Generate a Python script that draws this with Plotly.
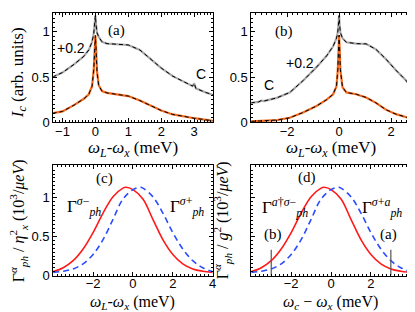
import plotly.graph_objects as go

# ---------------- data ----------------
# Panel (a): I_c vs omega_L - omega_x (meV)
a_x = [-1.3, -1.0, -0.65, -0.35, -0.2, -0.1, -0.05, -0.02, 0.0, 0.02, 0.05, 0.1, 0.2, 0.35, 0.65, 1.0,
       1.35, 1.65, 2.0, 2.35, 2.7, 2.95, 3.0, 3.05, 3.35, 3.6]
a_low = [0.10, 0.12, 0.19, 0.26, 0.31, 0.40, 0.58, 0.82, 0.96, 0.82, 0.56, 0.41, 0.345, 0.325, 0.31, 0.29,
         0.24, 0.19, 0.13, 0.087, 0.06, 0.045, 0.045, 0.043, 0.025, 0.015]
a_up = [0.50, 0.55, 0.64, 0.73, 0.80, 0.89, 0.98, 1.09, 1.18, 1.08, 0.99, 0.945, 0.89, 0.87, 0.863, 0.855,
        0.80, 0.71, 0.60, 0.51, 0.45, 0.40, 0.43, 0.375, 0.33, 0.30]

# Panel (b)
b_x = [-3.4, -3.1, -3.0, -2.9, -2.4, -1.9, -1.37, -0.87, -0.48, -0.23, -0.1, -0.05, -0.02, 0.0, 0.02, 0.05,
       0.13, 0.28, 0.66, 1.04, 1.42, 1.8, 2.19, 2.57, 2.82]
b_low = [0.01, 0.015, 0.016, 0.018, 0.025, 0.05, 0.11, 0.18, 0.25, 0.31, 0.40, 0.58, 0.82, 0.965, 0.82, 0.58,
         0.39, 0.33, 0.31, 0.275, 0.215, 0.14, 0.09, 0.054, 0.036]
b_up = [0.215, 0.225, 0.24, 0.235, 0.27, 0.33, 0.465, 0.61, 0.735, 0.84, 0.93, 1.0, 1.1, 1.18, 1.08, 0.99,
        0.93, 0.885, 0.87, 0.867, 0.806, 0.70, 0.575, 0.465, 0.376]

# Panels (c) and (d): phonon rates
red_x = [-4.0, -3.5, -3.0, -2.5, -2.0, -1.5, -1.0, -0.5, -0.35, 0.0, 0.5, 1.0, 1.5, 2.0, 2.5, 3.0, 3.5, 4.0]
red_y = [0.05, 0.10, 0.19, 0.34, 0.55, 0.80, 1.01, 1.12, 1.13, 1.10, 0.98, 0.72, 0.46, 0.27, 0.15, 0.085, 0.055, 0.04]
blue_x = [-4.0, -3.5, -3.0, -2.5, -2.0, -1.5, -1.0, -0.5, 0.0, 0.35, 0.5, 1.0, 1.5, 2.0, 2.5, 3.0, 3.5, 4.0]
blue_y = [0.04, 0.055, 0.085, 0.15, 0.27, 0.46, 0.72, 0.98, 1.10, 1.13, 1.12, 1.01, 0.80, 0.55, 0.34, 0.19, 0.10, 0.05]

# tick values
a_ticks = [-1, 0, 1, 2, 3]
b_ticks = [-2, 0, 2]
cd_ticks = [-2, 0, 2, 4]
y_ticks = [0, 0.5, 1]

# marker lines in (d)
mark_x = [-3.0, 3.0]
mark_h = [0.33, 0.33]

ORANGE = "#f56a1c"
GRAY = "#ababab"
RED = "#ff1a1a"
BLUE = "#2a4cff"
SANS = "Liberation Sans, Arial, sans-serif"
SERIF = "Liberation Serif, Times New Roman, serif"

fig = go.Figure()

def curve(x, y, xa, ya, color, width, dash="solid"):
    fig.add_trace(go.Scatter(x=x, y=y, mode="lines", xaxis=xa, yaxis=ya, showlegend=False,
                             line=dict(color=color, width=width, dash=dash)))

# (a)
curve(a_x, a_low, "x", "y", ORANGE, 2.2)
curve(a_x, a_low, "x", "y", "black", 1.0, "4px,3px")
curve(a_x, a_up, "x", "y", GRAY, 2.2)
curve(a_x, a_up, "x", "y", "black", 1.0, "4px,3px")
# (b)
curve(b_x, b_low, "x2", "y2", ORANGE, 2.2)
curve(b_x, b_low, "x2", "y2", "black", 1.0, "4px,3px")
curve(b_x, b_up, "x2", "y2", GRAY, 2.2)
curve(b_x, b_up, "x2", "y2", "black", 1.0, "4px,3px")
# (c)
fig.add_trace(go.Scatter(x=red_x, y=red_y, mode="lines", xaxis="x3", yaxis="y3", showlegend=False,
                         line=dict(color=RED, width=1.6, shape="spline")))
fig.add_trace(go.Scatter(x=blue_x, y=blue_y, mode="lines", xaxis="x3", yaxis="y3", showlegend=False,
                         line=dict(color=BLUE, width=1.6, shape="spline", dash="6px,4px")))
# (d)
fig.add_trace(go.Scatter(x=red_x, y=red_y, mode="lines", xaxis="x4", yaxis="y4", showlegend=False,
                         line=dict(color=RED, width=1.6, shape="spline")))
fig.add_trace(go.Scatter(x=blue_x, y=blue_y, mode="lines", xaxis="x4", yaxis="y4", showlegend=False,
                         line=dict(color=BLUE, width=1.6, shape="spline", dash="6px,4px")))
for mx, mh in zip(mark_x, mark_h):
    fig.add_trace(go.Scatter(x=[mx, mx], y=[0, mh], mode="lines", xaxis="x4", yaxis="y4", showlegend=False,
                             line=dict(color="#555555", width=1.2)))

def ax(domain, rng, ticks, minor_dtick, anchor, labels=True, standoff=0):
    return dict(domain=domain, range=rng, tickmode="array", tickvals=ticks, anchor=anchor,
                showline=True, linecolor="black", linewidth=1, mirror="allticks",
                ticks="inside", ticklen=4, tickcolor="black", tickwidth=1,
                showgrid=False, zeroline=False, showticklabels=labels,
                ticklabelstandoff=standoff,
                tickfont=dict(family=SANS, size=13, color="black"),
                minor=dict(tickmode="linear", ticks="inside", ticklen=2, dtick=minor_dtick, tick0=0,
                           tickcolor="black", showgrid=False))

xa_dom = [0.110, 0.498]
xb_dom = [0.592, 0.980]
ytop_dom = [0.624, 0.984]
ybot_dom = [0.120, 0.482]

fig.update_layout(
    width=415, height=312, margin=dict(l=0, r=0, t=0, b=0),
    paper_bgcolor="white", plot_bgcolor="white",
    xaxis=ax(xa_dom, [-1.28, 3.56], a_ticks, 0.1, "y", standoff=-3),
    yaxis=ax(ytop_dom, [0, 1.21], y_ticks, 0.05, "x"),
    xaxis2=ax(xb_dom, [-3.38, 2.76], b_ticks, 0.2, "y2", standoff=-3),
    yaxis2=ax(ytop_dom, [0, 1.21], y_ticks, 0.05, "x2"),
    xaxis3=ax(xa_dom, [-4, 4], cd_ticks, 0.2, "y3", standoff=-4),
    yaxis3=ax(ybot_dom, [0, 1.41], y_ticks, 0.05, "x3"),
    xaxis4=ax(xb_dom, [-4, 4], cd_ticks, 0.2, "y4", standoff=-4),
    yaxis4=ax(ybot_dom, [0, 1.41], y_ticks, 0.05, "x4", labels=False),
)

def note(text, x, y, xref, yref, size=13, family=SERIF, angle=0):
    fig.add_annotation(text=text, x=x, y=y, xref=xref, yref=yref, showarrow=False,
                       font=dict(family=family, size=size, color="black"), textangle=angle,
                       xanchor="center", yanchor="middle")

# panel labels and texts
note("(a)", 0.65, 1.02, "x", "y", 15)
note("+0.2", -0.75, 0.82, "x", "y", 14, SANS)
note("C", 3.2, 0.53, "x", "y", 14, SANS)
note("(b)", -2.14, 1.0, "x2", "y2", 15)
note("+0.2", -1.5, 0.66, "x2", "y2", 14, SANS)
note("C", -2.71, 0.41, "x2", "y2", 14, SANS)
note("(c)", -1.45, 1.24, "x3", "y3", 15)
note("Γ<sup><i>σ</i>−</sup><sub><i>ph</i></sub>", -2.45, 0.89, "x3", "y3", 17)
note("Γ<sup><i>σ</i>+</sup><sub><i>ph</i></sub>", 2.7, 0.89, "x3", "y3", 17)
note("(d)", -1.2, 1.25, "x4", "y4", 15)
note("Γ<sup><i>a</i>†<i>σ</i>−</sup><sub><i>ph</i></sub>", -2.3, 0.87, "x4", "y4", 17)
note("Γ<sup><i>σ</i>+<i>a</i></sup><sub><i>ph</i></sub>", 2.55, 0.87, "x4", "y4", 17)
note("(b)", -2.9, 0.52, "x4", "y4", 15)
note("(a)", 2.87, 0.52, "x4", "y4", 15)

# axis titles
xt = "<i>ω</i><sub><i>L</i></sub>-<i>ω</i><sub><i>x</i></sub> (meV)"
note(xt, 126 / 415, 1 - 145 / 312, "paper", "paper", 17)
note(xt, 326 / 415, 1 - 145 / 312, "paper", "paper", 17)
note(xt, 126 / 415, 1 - 302 / 312, "paper", "paper", 16)
note("<i>ω</i><sub><i>c</i></sub> − <i>ω</i><sub><i>x</i></sub> (meV)", 326 / 415, 1 - 302 / 312, "paper", "paper", 16)
note("<i>I</i><sub><i>c</i></sub> (arb. units)", 11 / 415, 1 - 66 / 312, "paper", "paper", 17, angle=-90)
note("Γ<sup><i>α</i></sup><sub><i>ph</i></sub> / <i>η</i><sup>2</sup><sub><i>x</i></sub> (10<sup>3</sup>/<i>μeV</i>)",
     11 / 415, 1 - 218 / 312, "paper", "paper", 16, angle=-90)
note("Γ<sup><i>α</i></sup><sub><i>ph</i></sub> / <i>g</i><sup>2</sup> (10<sup>3</sup>/<i>μeV</i>)",
     217 / 415, 1 - 218 / 312, "paper", "paper", 16, angle=-90)

fig.write_html("out.html")
